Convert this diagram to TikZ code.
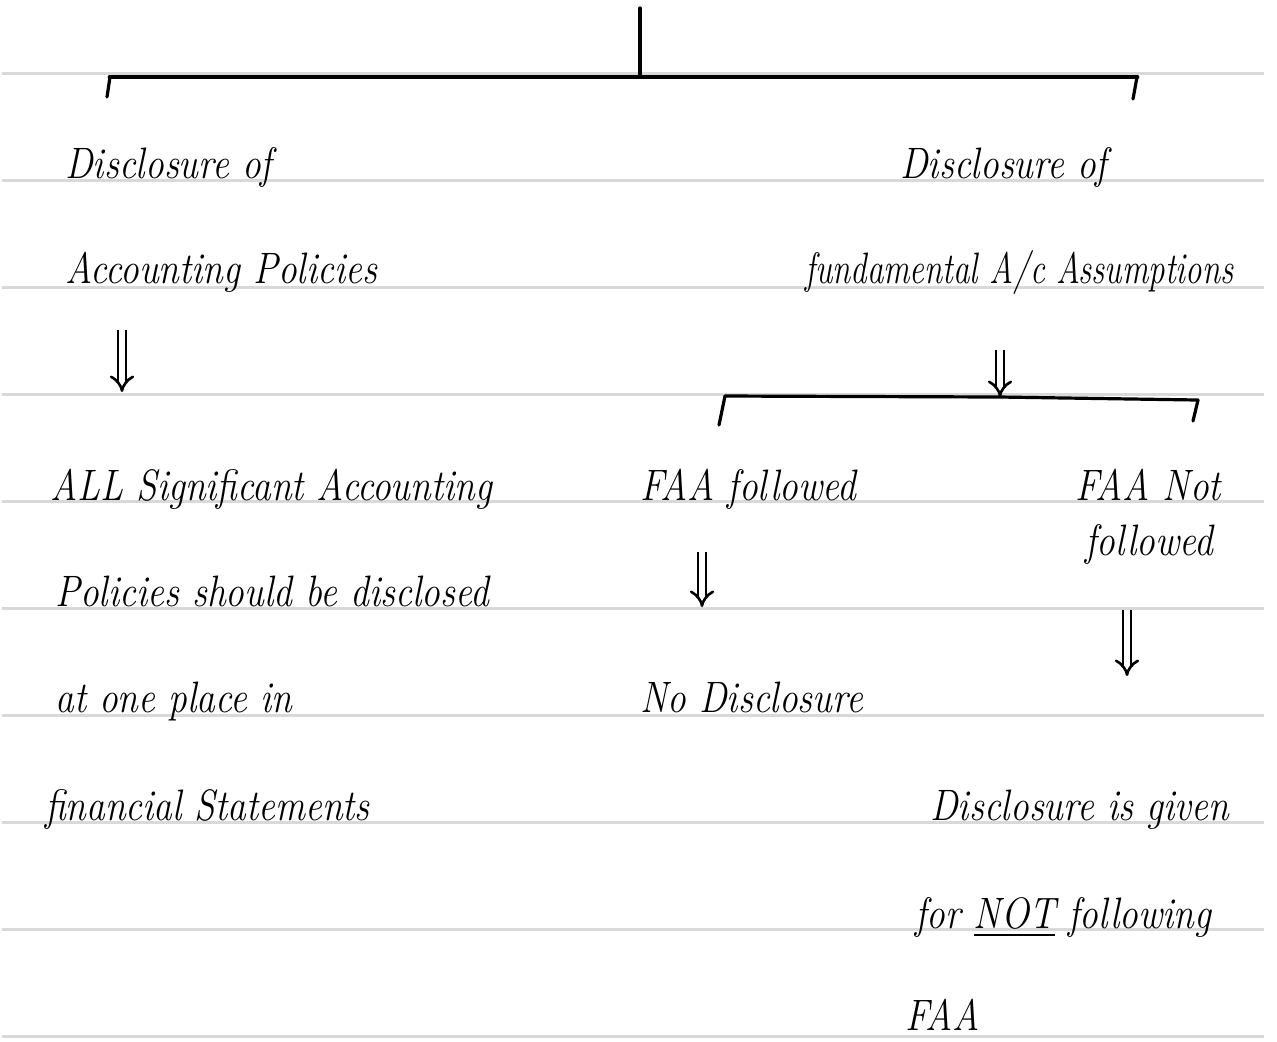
\documentclass[tikz,border=0pt]{standalone}
\usepackage{amsmath,amssymb}
\usetikzlibrary{arrows.meta, positioning}

\tikzset{
  hand/.style={font=\fontsize{22}{24}\selectfont\itshape, inner sep=0pt,
    anchor=base west, xscale=0.85, transform shape},
  narrow/.style={hand, xscale=0.88},
  rule/.style={gray!30, line width=1.5pt},
  pen/.style={line width=1.6pt, line cap=round},
  bar/.style={pen, line width=2.4pt},
  dbl/.style={draw=black, line width=1.3pt, double=white, double distance=2.8pt,
    -{Implies[length=7pt, width=12pt]}},
}

\begin{document}
\begin{tikzpicture}[x=0.5pt, y=-0.5pt]
        \useasboundingbox (0,0) rectangle (1277,1041);
        \fill[white] (0,0) rectangle (1277,1041);

        % ruled paper
        \foreach \y in {73,180,287,394,501,608,715,822,929,1036}
            \draw[rule] (2,\y) -- (1264,\y);

        % first split
        \coordinate (root) at (640,8);
        \coordinate (top)  at (640,77);
        \coordinate (barL) at (110,77);
        \coordinate (barR) at (1137,77);
        \coordinate (tickL) at (107,97);
        \coordinate (tickR) at (1133,99);

        \draw[bar] (barL) -- (barR);
        \path[pen]  (root) edge (top)
        (barL) edge (tickL)
        (barR) edge (tickR);

        % left branch
        \node[hand]   (pol1) at (65,178)    {Disclosure of};
        \node[hand]   (pol2) at (65,283)    {Accounting Policies};
        \coordinate (a1s) at (122,330);
        \coordinate (a1e) at (122,392);
        \node[hand]   (sig1) at (50,500)    {ALL Significant Accounting};
        \node[hand]   (sig2) at (55,606)    {Policies should be disclosed};
        \node[hand]   (sig3) at (55,712)    {at one place in};
        \node[hand]   (sig4) at (45,820)    {financial Statements};

        % right branch
        \node[hand]   (faa1) at (900,178)   {Disclosure of};
        \node[narrow] (faa2) at (805,283)   {fundamental A/c Assumptions};
        \coordinate (a2s) at (1000,350);
        \coordinate (midB) at (1000,397);
        \coordinate (subL) at (725,396);
        \coordinate (subR) at (1198,400);
        \coordinate (subtL) at (719,425);
        \coordinate (subtR) at (1193,421);

        \draw[pen] (subL) -- (midB) -- (subR);
        \path[pen]  (subL) edge (subtL)
        (subR) edge (subtR);

        \node[hand]   (fol)  at (640,500)   {FAA followed};
        \node[hand]   (nfo1) at (1075,500)  {FAA Not};
        \node[hand]   (nfo2) at (1085,555)  {followed};
        \coordinate (a3s) at (702,552);
        \coordinate (a3e) at (702,607);
        \node[hand]   (nod)  at (640,712)   {No Disclosure};
        \coordinate (a4s) at (1127,610);
        \coordinate (a4e) at (1127,676);
        \node[hand]   (giv1) at (930,820)   {Disclosure is given};
        \node[hand]   (giv2) at (915,928)   {for \underline{NOT} following};
        \node[hand]   (giv3) at (905,1030)  {FAA};

        % double arrows
        \draw[dbl] (a1s) -- (a1e);
        \draw[dbl] (a2s) -- (midB);
        \draw[dbl] (a3s) -- (a3e);
        \draw[dbl] (a4s) -- (a4e);
    \end{tikzpicture}
\end{document}
